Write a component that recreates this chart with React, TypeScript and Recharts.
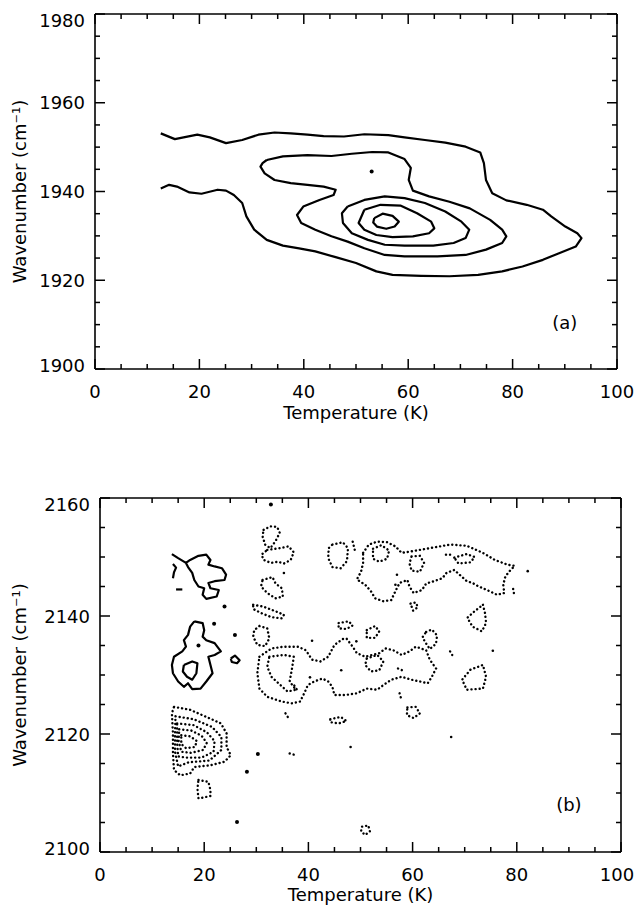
import React from 'react';
import { ScatterChart, Scatter, XAxis, YAxis, ReferenceDot, ReferenceLine } from 'recharts';

type Pt = [number, number];

// axis ticks (every 5, labels on every 20)
const xTicks = [0, 5, 10, 15, 20, 25, 30, 35, 40, 45, 50, 55, 60, 65, 70, 75, 80, 85, 90, 95, 100];
const yTicksA = [1900, 1905, 1910, 1915, 1920, 1925, 1930, 1935, 1940, 1945, 1950, 1955, 1960, 1965, 1970, 1975, 1980];
const yTicksB = [2100, 2105, 2110, 2115, 2120, 2125, 2130, 2135, 2140, 2145, 2150, 2155, 2160];

// ---- panel (a): solid contours, [temperature K, wavenumber cm-1]
const aOuter: Pt[] = [
  [12.6, 1953.1], [15.3, 1951.8], [19.6, 1952.8], [22.0, 1952.2], [25.1, 1950.9], [28.2, 1951.6],
  [31.3, 1952.8], [34.4, 1953.3], [37.5, 1953.1], [40.7, 1952.8], [43.8, 1952.5], [47.7, 1952.4],
  [51.6, 1952.9], [56.2, 1952.7], [59.3, 1952.2], [63.2, 1951.6], [67.1, 1951.0], [71.0, 1950.1],
  [73.8, 1948.8], [74.5, 1946.4], [74.9, 1942.6], [76.1, 1939.6], [78.8, 1938.0], [82.7, 1937.0],
  [85.8, 1935.9], [87.4, 1934.4], [90.1, 1932.1], [92.4, 1930.6], [93.2, 1929.5], [92.1, 1927.6],
  [88.9, 1926.1], [85.8, 1924.6], [81.9, 1923.1], [78.0, 1922.0], [73.4, 1921.2], [67.9, 1920.9],
  [62.5, 1921.0], [57.0, 1921.2], [53.9, 1922.0], [50.0, 1923.9], [46.1, 1925.2], [42.2, 1926.5],
  [39.1, 1927.2], [36.0, 1927.8], [32.9, 1929.1], [30.5, 1931.4], [29.0, 1934.4], [28.2, 1937.4],
  [26.6, 1939.2], [25.1, 1940.2], [23.5, 1940.4], [20.4, 1939.5], [18.1, 1939.8], [15.7, 1941.1],
  [14.2, 1941.5], [12.6, 1940.7],
];
const aLevel2: Pt[] = [
  [32.9, 1947.1], [36.0, 1947.9], [40.7, 1948.2], [45.3, 1948.0], [49.2, 1948.5], [53.1, 1948.9],
  [56.2, 1948.8], [59.3, 1947.3], [60.5, 1945.3], [60.1, 1942.6], [60.9, 1940.2], [64.0, 1938.9],
  [67.9, 1937.7], [71.8, 1936.2], [75.7, 1933.6], [78.0, 1931.4], [78.8, 1929.9], [78.0, 1928.4],
  [74.9, 1926.9], [71.0, 1925.7], [65.6, 1925.4], [59.3, 1925.4], [55.5, 1925.7], [51.6, 1927.2],
  [48.4, 1928.7], [45.3, 1929.9], [42.2, 1931.4], [39.5, 1932.9], [38.7, 1934.7], [39.9, 1936.6],
  [43.0, 1938.1], [45.7, 1939.2], [46.1, 1940.4], [43.8, 1941.1], [40.7, 1941.5], [37.5, 1941.9],
  [34.4, 1942.6], [32.5, 1944.1], [31.7, 1945.6], [32.1, 1946.4],
];
const aLevel3: Pt[] = [
  [48.4, 1936.6], [51.6, 1938.1], [55.5, 1938.9], [59.3, 1938.5], [63.2, 1937.4], [67.1, 1935.5],
  [70.2, 1933.2], [71.7, 1931.4], [71.0, 1929.5], [68.7, 1928.4], [64.8, 1927.8], [59.3, 1927.8],
  [55.5, 1928.0], [52.3, 1929.1], [49.2, 1930.6], [47.5, 1932.9], [47.3, 1935.1],
];
const aLevel4: Pt[] = [
  [51.6, 1935.9], [54.7, 1937.0], [58.6, 1936.8], [61.7, 1935.1], [64.4, 1933.2], [65.0, 1931.7],
  [64.0, 1930.6], [60.9, 1929.9], [57.0, 1929.7], [53.9, 1930.2], [51.6, 1931.4], [50.5, 1932.9],
];
const aPeak: Pt[] = [
  [53.5, 1934.0], [55.1, 1935.0], [57.0, 1934.5], [58.2, 1933.2], [57.4, 1932.1], [55.8, 1931.6],
  [54.0, 1932.1], [53.3, 1933.0],
];
const aSpots: Pt[] = [[53.0, 1944.5]];

// ---- panel (b): solid (positive) contours
const bSolidTop: Pt[] = [
  [13.8, 2150.5], [15.0, 2149.8], [16.5, 2149.0], [17.3, 2149.5], [18.9, 2150.2], [20.4, 2150.4],
  [21.2, 2149.5], [20.8, 2148.7], [22.0, 2148.4], [23.4, 2148.1], [24.2, 2147.0], [23.9, 2146.1],
  [22.0, 2145.9], [20.8, 2145.6], [21.2, 2144.7], [22.8, 2144.4], [22.4, 2143.3], [20.4, 2142.9],
  [19.7, 2143.6], [20.0, 2144.7], [18.9, 2145.0], [18.1, 2146.1], [17.7, 2147.3], [16.9, 2148.3],
  [16.5, 2149.0],
];
const bSolidHook: Pt[] = [[14.0, 2148.8], [14.6, 2148.2], [14.2, 2147.4], [14.0, 2146.4]];
const bSolidDash: Pt[] = [[14.6, 2144.5], [15.8, 2144.5]];
const bSolidMid: Pt[] = [
  [18.1, 2139.1], [19.7, 2138.8], [20.0, 2137.6], [19.7, 2136.5], [20.4, 2135.9], [22.0, 2135.4],
  [23.2, 2134.0], [22.0, 2133.4], [20.8, 2133.1], [21.2, 2131.7], [21.6, 2130.3], [20.4, 2128.9],
  [19.3, 2127.7], [17.7, 2127.6], [16.9, 2128.6], [16.1, 2128.0], [15.0, 2128.9], [14.0, 2130.3],
  [13.8, 2131.7], [14.2, 2133.1], [15.8, 2134.0], [16.5, 2134.8], [16.1, 2135.9], [16.9, 2136.8],
  [17.3, 2138.2],
];
const bSolidHole: Pt[] = [
  [16.1, 2131.7], [17.7, 2132.3], [18.7, 2132.0], [18.5, 2130.3], [17.7, 2129.2], [16.7, 2129.7], [15.9, 2130.6],
];
const bSolidLoop: Pt[] = [[25.1, 2132.8], [25.9, 2133.3], [26.8, 2132.5], [26.3, 2132.0], [25.3, 2132.2]];
const bSolidSpots: Pt[] = [
  [23.9, 2141.6], [21.9, 2138.7], [25.9, 2136.8], [18.9, 2135.0], [30.3, 2116.6], [28.2, 2113.6],
  [26.3, 2105.1], [32.8, 2158.9],
];

// ---- panel (b): dotted (negative) contours
const bLowOuter: Pt[] = [
  [14.2, 2124.6], [17.3, 2124.1], [20.4, 2122.9], [23.2, 2121.8], [24.3, 2120.1], [24.3, 2117.8],
  [25.1, 2116.4], [23.9, 2115.3], [21.2, 2114.7], [18.1, 2114.4], [17.3, 2113.3], [15.4, 2113.0],
  [14.2, 2113.9], [14.0, 2116.7], [14.0, 2120.1], [13.8, 2123.5],
];
const bLow2: Pt[] = [
  [14.5, 2123.0], [18.0, 2122.5], [21.5, 2121.2], [23.3, 2119.5], [23.3, 2117.3], [21.0, 2115.5],
  [17.0, 2115.2], [15.0, 2114.5], [14.4, 2117.0], [14.4, 2120.5],
];
const bLow3: Pt[] = [
  [14.8, 2121.8], [18.0, 2121.5], [20.5, 2120.3], [22.0, 2118.8], [21.8, 2117.0], [19.5, 2116.0],
  [16.5, 2116.0], [15.0, 2116.2], [14.8, 2118.5],
];
const bLow4: Pt[] = [
  [15.2, 2120.8], [17.5, 2120.6], [19.5, 2119.7], [20.5, 2118.5], [19.8, 2117.3], [17.5, 2116.8],
  [15.6, 2117.0], [15.1, 2118.8],
];
const bLow5: Pt[] = [[15.6, 2119.8], [17.3, 2119.6], [18.6, 2118.8], [18.2, 2117.8], [16.5, 2117.6], [15.6, 2118.3]];
const bLowSmall: Pt[] = [[18.9, 2112.2], [20.8, 2111.9], [21.2, 2110.5], [21.2, 2109.5], [19.7, 2109.2], [18.9, 2109.1], [18.7, 2110.7]];
const bLoopA: Pt[] = [[31.4, 2154.6], [32.7, 2155.2], [34.0, 2155.1], [34.5, 2154.1], [33.7, 2152.7], [32.7, 2151.5], [31.7, 2152.1], [31.2, 2153.5]];
const bLoopB: Pt[] = [[32.1, 2151.2], [34.5, 2151.5], [36.2, 2151.8], [37.2, 2150.8], [36.6, 2149.5], [35.3, 2148.9], [34.1, 2149.2], [32.8, 2149.0], [31.4, 2149.5], [31.0, 2150.4]];
const bLoopC: Pt[] = [[31.2, 2146.1], [33.1, 2146.6], [33.7, 2145.5], [34.9, 2144.7], [35.1, 2143.3], [33.7, 2143.0], [32.1, 2143.9], [30.9, 2145.0]];
const bLoopD: Pt[] = [[29.4, 2141.9], [31.3, 2141.6], [33.7, 2140.8], [35.3, 2140.2], [34.9, 2139.6], [32.9, 2139.8], [30.9, 2140.5], [29.4, 2141.2]];
const bLoopE: Pt[] = [[30.6, 2138.3], [32.1, 2137.9], [32.5, 2136.2], [31.7, 2134.9], [30.2, 2135.1], [29.4, 2136.5], [29.6, 2137.6]];
const bBand: Pt[] = [
  [30.6, 2133.1], [32.9, 2134.5], [35.3, 2134.8], [38.0, 2134.8], [39.5, 2134.2], [40.7, 2132.6],
  [42.3, 2132.3], [43.8, 2133.1], [45.0, 2135.1], [46.6, 2136.1], [47.3, 2136.2], [48.5, 2134.8],
  [49.3, 2133.7], [50.9, 2133.1], [53.6, 2133.7], [54.8, 2134.5], [56.3, 2134.2], [57.9, 2133.4],
  [59.4, 2134.0], [60.6, 2134.8], [62.6, 2134.2], [63.3, 2132.6], [64.5, 2131.1], [63.7, 2129.7],
  [62.9, 2128.6], [61.4, 2128.9], [59.8, 2129.2], [57.9, 2129.7], [55.9, 2129.2], [54.4, 2128.3],
  [53.2, 2127.5], [51.2, 2127.7], [49.3, 2126.9], [47.0, 2126.6], [45.0, 2126.6], [44.6, 2128.0],
  [43.8, 2128.9], [42.7, 2129.4], [41.1, 2128.9], [39.9, 2128.3], [39.2, 2126.9], [38.4, 2125.5],
  [36.8, 2125.2], [34.9, 2125.5], [32.1, 2126.3], [30.6, 2127.7], [30.2, 2130.3],
];
const bBandInL: Pt[] = [[32.5, 2133.1], [35.3, 2133.4], [37.2, 2133.1], [36.8, 2130.8], [36.4, 2128.9], [37.6, 2127.5], [36.0, 2127.2], [34.5, 2128.4], [32.9, 2129.7], [32.1, 2131.4]];
const bBandInM: Pt[] = [[51.2, 2132.8], [53.2, 2133.4], [54.4, 2132.3], [53.6, 2130.8], [52.0, 2130.6], [50.9, 2131.7]];
const bLoopF: Pt[] = [[51.2, 2137.6], [52.8, 2138.3], [53.6, 2137.4], [52.8, 2136.3], [51.2, 2136.3]];
const bLoopG: Pt[] = [[62.6, 2137.3], [63.7, 2137.7], [64.7, 2136.7], [64.5, 2135.3], [63.3, 2134.4], [62.4, 2135.6], [61.9, 2136.4]];
const bLoopH: Pt[] = [[45.8, 2138.8], [47.7, 2139.1], [48.5, 2138.4], [47.3, 2137.8], [45.8, 2137.9]];
const bLoopI: Pt[] = [[59.0, 2124.5], [60.6, 2124.6], [61.4, 2123.5], [60.2, 2122.7], [58.9, 2123.2]];
const bLoopJ: Pt[] = [[44.2, 2122.5], [46.2, 2122.9], [47.3, 2122.2], [45.8, 2121.8], [44.2, 2122.0]];
const bLoopK: Pt[] = [[44.6, 2152.1], [46.6, 2152.5], [47.6, 2151.5], [47.4, 2149.3], [46.2, 2148.1], [44.6, 2148.3], [43.8, 2149.8], [43.9, 2151.5]];
const bUpper: Pt[] = [
  [50.5, 2150.7], [51.6, 2152.1], [53.2, 2152.6], [55.1, 2152.5], [56.7, 2151.8], [57.9, 2150.7],
  [59.4, 2150.9], [63.3, 2151.5], [67.2, 2152.1], [70.4, 2151.9], [73.5, 2150.7], [75.8, 2149.5],
  [78.2, 2148.7], [79.6, 2148.5], [78.5, 2147.5], [77.8, 2146.7], [77.4, 2145.3], [77.6, 2143.9],
  [76.2, 2143.6], [74.3, 2144.4], [72.7, 2145.0], [71.5, 2145.6], [70.4, 2145.9], [68.0, 2147.8],
  [66.5, 2147.3], [65.7, 2146.4], [64.1, 2145.9], [62.6, 2145.5], [61.8, 2144.4], [60.2, 2143.9],
  [59.4, 2145.0], [59.0, 2146.1], [57.5, 2145.6], [56.7, 2144.2], [55.9, 2142.7], [54.4, 2142.5],
  [52.8, 2143.0], [52.0, 2144.2], [50.9, 2145.3], [49.3, 2146.2], [50.1, 2147.5], [50.5, 2149.0],
];
const bUpperIn1: Pt[] = [[52.4, 2151.4], [54.0, 2152.0], [55.5, 2151.1], [55.1, 2149.7], [53.6, 2149.2], [52.4, 2149.7]];
const bUpperIn2: Pt[] = [[59.8, 2150.1], [61.4, 2150.2], [62.2, 2149.0], [61.4, 2147.5], [59.8, 2147.7], [59.4, 2148.9]];
const bUpperIn3: Pt[] = [[68.0, 2149.9], [70.4, 2150.5], [71.9, 2150.0], [71.1, 2149.1], [68.8, 2148.9]];
const bLoopL: Pt[] = [[59.6, 2142.1], [60.6, 2142.3], [61.0, 2141.5], [60.1, 2140.9]];
const bTriangle: Pt[] = [[73.5, 2141.9], [73.9, 2140.5], [74.1, 2138.8], [73.3, 2137.4], [71.5, 2138.2], [70.5, 2139.7], [71.9, 2140.8]];
const bPentagon: Pt[] = [[71.1, 2130.9], [73.5, 2131.7], [74.1, 2129.7], [73.5, 2127.7], [70.4, 2127.5], [69.5, 2129.2]];
const bLoopM: Pt[] = [[50.3, 2104.3], [51.5, 2104.5], [51.8, 2103.5], [50.9, 2102.9], [50.1, 2103.5]];
const bBits: Pt[][] = [
  [[35.6, 2123.5], [36.4, 2122.4]],
  [[36.4, 2116.7], [37.6, 2116.4]],
  [[48.5, 2152.6], [48.9, 2151.2]],
  [[79.3, 2144.6], [79.5, 2143.6]],
  [[67.2, 2134.0], [67.6, 2133.4]],
  [[57.5, 2126.9], [57.8, 2126.0]],
  [[66.4, 2150.4], [67.2, 2150.4]],
  [[37.3, 2128.2], [38.1, 2127.1]],
  [[57.2, 2131.1], [58.0, 2130.8]],
];
const bSpecks: Pt[] = [
  [82.1, 2147.6], [75.4, 2134.1], [67.4, 2119.5], [48.1, 2117.8], [40.7, 2135.8], [40.3, 2129.6],
  [46.3, 2130.8], [49.2, 2135.7], [56.7, 2145.3], [35.3, 2147.3], [57.0, 2147.0],
];

const aSolid: Pt[][] = [aLevel2, aLevel3, aLevel4, aPeak];
const bSolidClosed: Pt[][] = [bSolidMid, bSolidHole, bSolidLoop];
const bSolidOpen: Pt[][] = [bSolidTop, bSolidHook, bSolidDash];
const bDotted: Pt[][] = [
  bLowOuter, bLow2, bLow3, bLow4, bLow5, bLowSmall, bLoopA, bLoopB, bLoopC, bLoopD, bLoopE,
  bBand, bBandInL, bBandInM, bLoopF, bLoopG, bLoopH, bLoopI, bLoopJ, bLoopK, bUpper, bUpperIn1,
  bUpperIn2, bUpperIn3, bLoopL, bTriangle, bPentagon, bLoopM,
];

const toXY = (pts: Pt[], close: boolean) => {
  const d = pts.map(([x, y]) => ({ x, y }));
  if (close) d.push({ ...d[0] });
  return d;
};

const FONT = { fontFamily: '"DejaVu Sans", sans-serif', fontSize: 18 };
const GAP = 8;
const W = 636;
const NoShape = () => <g />;
const Speck = (p: any) => <circle cx={p.cx} cy={p.cy} r={p.rad || 1.6} fill="#000" />;

// tick labels only; the tick marks are drawn as reference segments (inward, all four sides)
function TickLabel(props: any) {
  const { x, y, payload, side, lo, hi } = props;
  const v = Number(payload.value);
  if (v % 20 !== 0) return <g />;
  if (side === 'bottom') {
    const cx = Math.min(x, W - 19); // keep the last label on the page
    return <text x={cx} y={y - GAP + 22} textAnchor="middle" dominantBaseline="central" fill="#000" style={FONT}>{v}</text>;
  }
  const dy = v === hi ? 6 : v === lo ? -4 : 0;
  return <text x={x + GAP - 10} y={y + dy} textAnchor="end" dominantBaseline="central" fill="#000" style={FONT}>{v}</text>;
}

const frameLine = { stroke: '#000', strokeWidth: 1.6 };
const solidLine = { stroke: '#000', strokeWidth: 2.2, strokeLinejoin: 'round' as const };
const dotLine = { stroke: '#000', strokeWidth: 2.4, strokeDasharray: '0.1 4', strokeLinecap: 'round' as const };

interface PanelProps {
  top: number;
  height: number;
  margin: { top: number; right: number; bottom: number; left: number };
  yAxisWidth: number;
  xAxisHeight: number;
  titleOffset: number;
  yDomain: [number, number];
  yTicks: number[];
  tag: string;
  tagAt: Pt;
  children?: React.ReactNode;
}

function Panel(p: PanelProps) {
  const [lo, hi] = p.yDomain;
  const m = p.margin;
  const plotW = W - m.left - m.right - p.yAxisWidth;
  const plotH = p.height - m.top - m.bottom - p.xAxisHeight;
  const xu = 100 / plotW; // data units per px
  const yu = (hi - lo) / plotH;
  const len = (v: number) => (v % 20 === 0 ? 10 : 5);
  const ax = { xAxisId: 'b', yAxisId: 'l', stroke: '#000', strokeWidth: 1.5, ifOverflow: 'visible' as const };
  return (
    <div style={{ position: 'absolute', left: 0, top: p.top }}>
      <ScatterChart width={W} height={p.height} margin={m}>
        <XAxis
          xAxisId="b" dataKey="x" type="number" domain={[0, 100]} ticks={xTicks} interval={0}
          allowDataOverflow tickSize={0} tickMargin={GAP} tickLine={false} axisLine={frameLine}
          height={p.xAxisHeight} tick={<TickLabel side="bottom" />}
          label={{ value: 'Temperature (K)', position: 'insideBottom', offset: p.titleOffset, fill: '#000', style: FONT }}
        />
        <YAxis
          yAxisId="l" dataKey="y" type="number" domain={p.yDomain} ticks={p.yTicks} interval={0}
          allowDataOverflow tickSize={0} tickMargin={GAP} tickLine={false} axisLine={frameLine}
          width={p.yAxisWidth} tick={<TickLabel side="left" lo={lo} hi={hi} />}
          label={{ value: 'Wavenumber (cm⁻¹)', angle: -90, position: 'insideLeft', offset: 20, fill: '#000', style: { ...FONT, textAnchor: 'middle' } }}
        />
        <ReferenceLine {...ax} y={hi} strokeWidth={1.6} />
        <ReferenceLine {...ax} x={100} strokeWidth={1.6} />
        {xTicks.map((v) => (
          <ReferenceLine key={'xb' + v} {...ax} segment={[{ x: v, y: lo }, { x: v, y: lo + len(v) * yu }]} />
        ))}
        {xTicks.map((v) => (
          <ReferenceLine key={'xt' + v} {...ax} segment={[{ x: v, y: hi }, { x: v, y: hi - len(v) * yu }]} />
        ))}
        {p.yTicks.map((v) => (
          <ReferenceLine key={'yl' + v} {...ax} segment={[{ x: 0, y: v }, { x: len(v) * xu, y: v }]} />
        ))}
        {p.yTicks.map((v) => (
          <ReferenceLine key={'yr' + v} {...ax} segment={[{ x: 100, y: v }, { x: 100 - len(v) * xu, y: v }]} />
        ))}
        {p.children}
        <ReferenceDot
          xAxisId="b" yAxisId="l" x={p.tagAt[0]} y={p.tagAt[1]} r={0} fill="none" stroke="none"
          label={{ value: p.tag, position: 'center', fill: '#000', style: FONT }}
        />
      </ScatterChart>
    </div>
  );
}

export default function App() {
  return (
    <div style={{ position: 'absolute', left: 0, top: 0, width: W, height: 905, background: '#fff' }}>
      <Panel
        top={0} height={430} margin={{ top: 14, right: 19, bottom: 9, left: 0 }}
        yAxisWidth={95} xAxisHeight={52} titleOffset={2}
        yDomain={[1900, 1980]} yTicks={yTicksA} tag="(a)" tagAt={[90, 1910.5]}
      >
        <Scatter xAxisId="b" yAxisId="l" data={toXY(aOuter, false)} line={solidLine} shape={NoShape} fill="#000" isAnimationActive={false} />
        {aSolid.map((c, i) => (
          <Scatter key={'a' + i} xAxisId="b" yAxisId="l" data={toXY(c, true)} line={solidLine} shape={NoShape} fill="#000" isAnimationActive={false} />
        ))}
        <Scatter xAxisId="b" yAxisId="l" data={toXY(aSpots, false)} shape={<Speck rad={2} />} isAnimationActive={false} />
      </Panel>
      <Panel
        top={480} height={425} margin={{ top: 18, right: 15, bottom: 3, left: 0 }}
        yAxisWidth={100} xAxisHeight={50} titleOffset={1}
        yDomain={[2100, 2160]} yTicks={yTicksB} tag="(b)" tagAt={[90, 2108]}
      >
        {bSolidOpen.map((c, i) => (
          <Scatter key={'so' + i} xAxisId="b" yAxisId="l" data={toXY(c, false)} line={solidLine} shape={NoShape} fill="#000" isAnimationActive={false} />
        ))}
        {bSolidClosed.map((c, i) => (
          <Scatter key={'sc' + i} xAxisId="b" yAxisId="l" data={toXY(c, true)} line={solidLine} shape={NoShape} fill="#000" isAnimationActive={false} />
        ))}
        {bDotted.map((c, i) => (
          <Scatter key={'d' + i} xAxisId="b" yAxisId="l" data={toXY(c, true)} line={dotLine} shape={NoShape} fill="#000" isAnimationActive={false} />
        ))}
        {bBits.map((c, i) => (
          <Scatter key={'bit' + i} xAxisId="b" yAxisId="l" data={toXY(c, false)} line={dotLine} shape={NoShape} fill="#000" isAnimationActive={false} />
        ))}
        <Scatter xAxisId="b" yAxisId="l" data={toXY(bSolidSpots, false)} shape={<Speck rad={2} />} isAnimationActive={false} />
        <Scatter xAxisId="b" yAxisId="l" data={toXY(bSpecks, false)} shape={<Speck rad={1.3} />} isAnimationActive={false} />
      </Panel>
    </div>
  );
}
